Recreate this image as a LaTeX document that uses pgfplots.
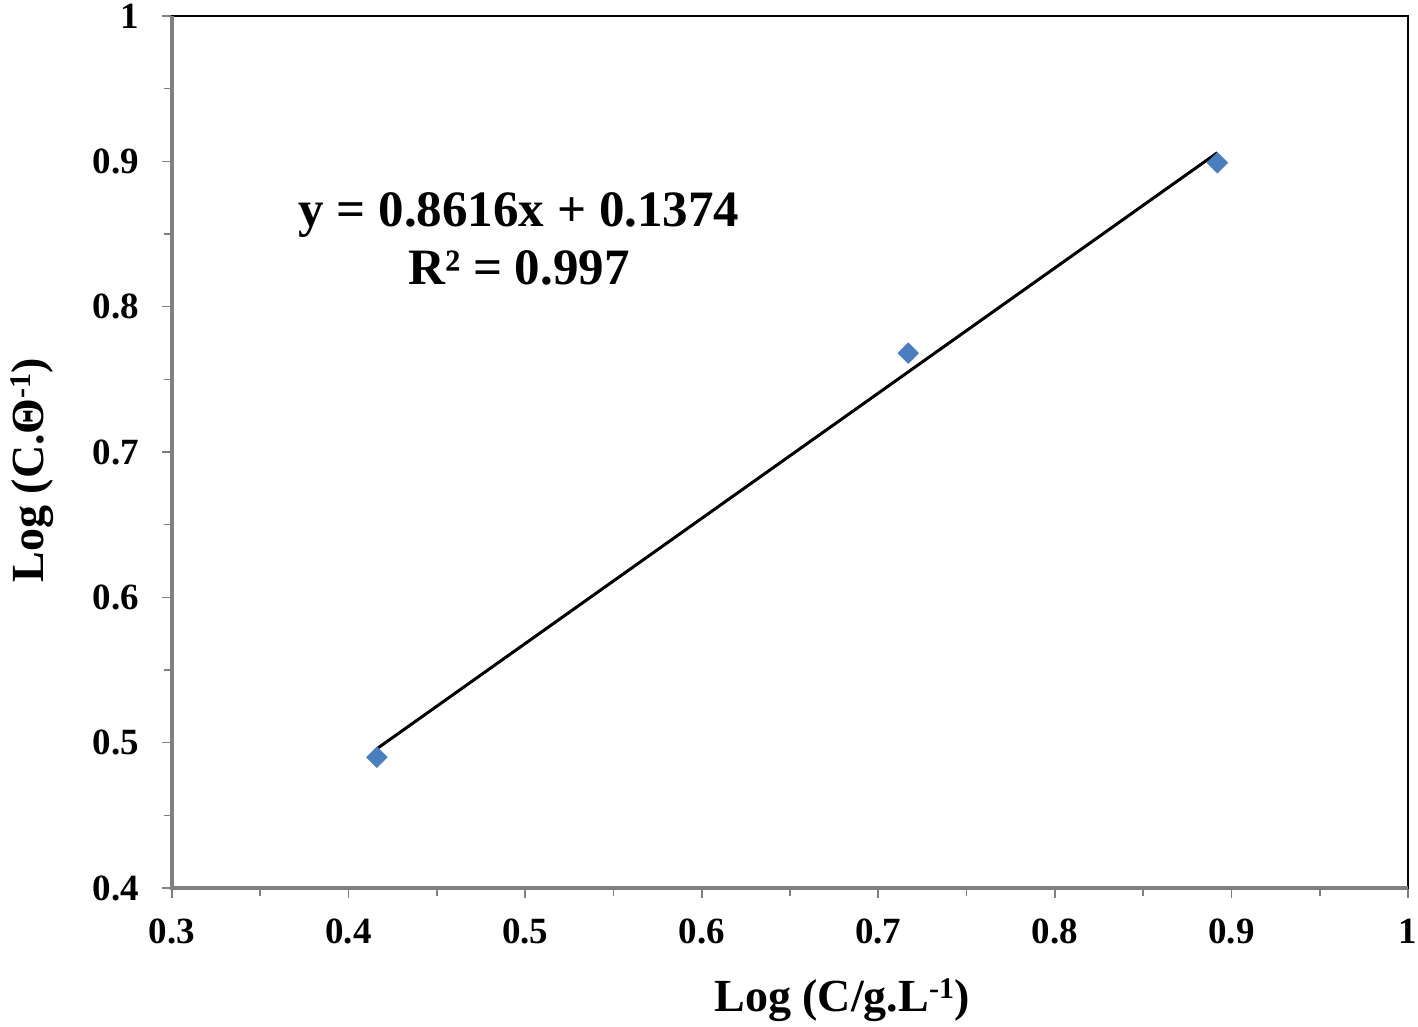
\documentclass[border=0pt]{standalone}
\usepackage{pgfplots}
\pgfplotsset{compat=1.18}
\usepackage{fontspec}
\setmainfont{Liberation Serif}
\definecolor{ptblue}{HTML}{4A7EBF}
\definecolor{axgray}{HTML}{808080}
\newcommand{\supx}[1]{\raisebox{0.62ex}{\fontsize{15}{15}\selectfont #1}}
\begin{document}
\begin{tikzpicture}
\begin{axis}[
  width=618pt, height=436pt, scale only axis,
  xmin=0.3, xmax=1, ymin=0.4, ymax=1,
  xtick={0.3,0.4,...,1.0}, ytick={0.4,0.5,...,1.0},
  xticklabels={0.3,0.4,0.5,0.6,0.7,0.8,0.9,1},
  yticklabels={0.4,0.5,0.6,0.7,0.8,0.9,1},
  minor tick num=1,
  tick align=outside, tick pos=left,
  major tick length=5pt, minor tick length=4pt,
  tick style={axgray, line width=0.8pt},
  axis line style={black, line width=1.4pt},
  /pgf/number format/assume math mode=true,
  ticklabel style={font=\fontsize{18.5}{20}\selectfont\bfseries},
  xticklabel style={yshift=-7pt},
  yticklabel style={xshift=-8pt},
  xlabel={Log (C/g.L\supx{-1})},
  ylabel={Log (C.\symbol{"0398}\supx{-1})},
  label style={font=\fontsize{23}{26}\selectfont\bfseries},
  xlabel style={at={(rel axis cs:0.542,0)}, anchor=center, yshift=-56pt},
  ylabel style={at={(rel axis cs:0,0.479)}, anchor=center, yshift=70pt},
  clip=false,
]
\coordinate (sw) at (rel axis cs:0,0);
\coordinate (ne) at (rel axis cs:1,1);
\draw[axgray, line width=1.6pt] (rel axis cs:0,1) -- (rel axis cs:0,0) -- (rel axis cs:1,0);
\addplot[black, line width=1.5pt, no marks] coordinates {(0.416,0.4958) (0.892,0.9059)};
\addplot[only marks, mark=square*, mark size=3.6pt, mark options={rotate=45, fill=ptblue, draw=ptblue}] coordinates {
(0.416,0.490) (0.717,0.768) (0.892,0.899)};
\node[align=center, font=\fontsize{25.5}{29}\selectfont\bfseries] at (axis cs:0.4965,0.8466) {y = 0.8616x + 0.1374\\R² = 0.997};
\end{axis}
\pgfresetboundingbox
\path[use as bounding box] ([xshift=-86pt,yshift=-69.5pt]sw) rectangle ([xshift=5pt,yshift=8pt]ne);
\end{tikzpicture}
\end{document}
